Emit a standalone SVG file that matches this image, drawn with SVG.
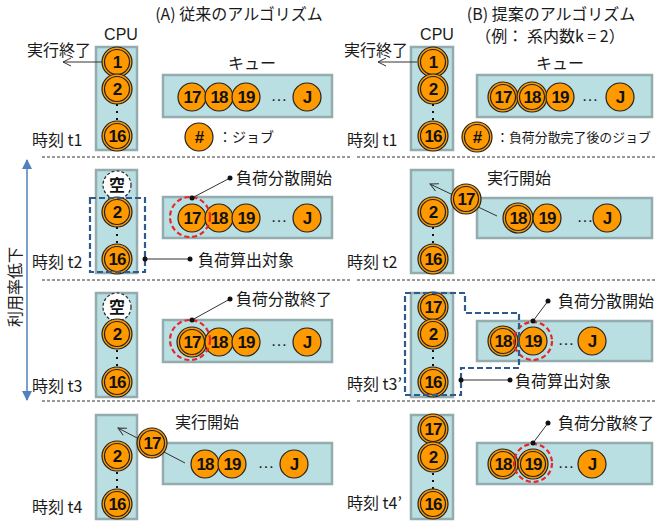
<svg xmlns="http://www.w3.org/2000/svg" xmlns:xlink="http://www.w3.org/1999/xlink" width="657" height="525" viewBox="0 0 657 525">
<defs>
<style>
.t{font-family:"Noto Sans CJK JP","Noto Sans",sans-serif;font-size:16px;fill:#1a1a1a}
.s{font-size:14px}
.m{text-anchor:middle}
.cpu{font-family:"Liberation Sans",Arial,sans-serif;font-size:16px;fill:#1a1a1a;text-anchor:middle}
.n{font-family:"Liberation Sans",Arial,sans-serif;font-weight:bold;font-size:17px;fill:#111;text-anchor:middle;letter-spacing:-1px}
.k{font-family:"Noto Sans CJK JP",sans-serif;font-weight:bold;font-size:16px;fill:#111;text-anchor:middle}
.el{font-family:"Liberation Sans",Arial,sans-serif;font-size:17px;fill:#222;text-anchor:middle}
.box{fill:#b9dfe3;stroke:#94acae;stroke-width:2.5}
.j{fill:#ff9900;stroke:#222;stroke-width:1.2}
.e{fill:#fff;stroke:#222;stroke-width:1.2;stroke-dasharray:3 2}
.red{fill:none;stroke:#e8262a;stroke-width:2.2;stroke-dasharray:5 3}
.blue{fill:none;stroke:#2f5a8c;stroke-width:2.2;stroke-dasharray:6 3}
.sep{stroke:#333;stroke-width:1;stroke-dasharray:3 2;fill:none}
.ln{stroke:#333;stroke-width:1;fill:none}
.ar{stroke:#333;stroke-width:1;fill:none;marker-end:url(#open)}
.dot{fill:#111}
</style>
<marker id="open" markerWidth="10" markerHeight="10" refX="9" refY="5" orient="auto" markerUnits="userSpaceOnUse">
<path d="M1,1 L9,5 L1,9" fill="none" stroke="#333" stroke-width="1"/>
</marker>
<marker id="tri" markerWidth="10" markerHeight="12" refX="9" refY="5" orient="auto-start-reverse" markerUnits="userSpaceOnUse">
<path d="M0,0 L10,5 L0,10 Z" fill="#4f81bd"/>
</marker>
<g id="dj"><circle r="15" class="j"/><circle r="12.5" class="j"/></g>
<circle id="sj" r="14" class="j"/>
<circle id="ej" r="14" class="e"/>
<g id="vd"><rect x="-1" y="-8" width="2" height="2" class="dot"/><rect x="-1" y="-1" width="2" height="2" class="dot"/><rect x="-1" y="6" width="2" height="2" class="dot"/></g>
</defs>

<g id="titles">
<text class="t m" x="239" y="20">(A) 従来のアルゴリズム</text>
<text class="t m" x="551" y="20">(B) 提案のアルゴリズム</text>
<text class="t m" x="550" y="42">（例：  系内数k = 2）</text>
<text class="t" x="21" y="287" transform="rotate(-90 21 287)" text-anchor="middle">利用率低下</text>
</g>

<g id="separators">
<line class="sep" x1="42" y1="157" x2="350" y2="157"/><line class="sep" x1="357" y1="157" x2="655" y2="157"/>
<line class="sep" x1="42" y1="280" x2="350" y2="280"/><line class="sep" x1="357" y1="280" x2="655" y2="280"/>
<line class="sep" x1="42" y1="401" x2="350" y2="401"/><line class="sep" x1="357" y1="401" x2="655" y2="401"/>
</g>

<!-- Row 1 left -->
<g id="a1-cpu"><rect class="box" x="96" y="47" width="41" height="103"/><text class="cpu" x="121" y="40">CPU</text></g>
<g id="a1-j1"><use xlink:href="#dj" x="117" y="62"/><text class="n" x="117" y="68">1</text></g>
<g id="a1-j2"><use xlink:href="#dj" x="117" y="89"/><text class="n" x="117" y="95">2</text></g>
<use xlink:href="#vd" x="117" y="112"/>
<g id="a1-j16"><use xlink:href="#dj" x="117" y="136"/><text class="n" x="117" y="142">16</text></g>
<text class="t" x="27" y="56">実行終了</text>
<text class="t" x="32" y="146">時刻 t1</text>
<g id="a1-queue"><rect class="box" x="163" y="75" width="169" height="42"/><text class="t m" x="252" y="69">キュー</text></g>
<g id="a1-q17"><use xlink:href="#sj" x="192" y="97"/><text class="n" x="192" y="103">17</text></g>
<g id="a1-q18"><use xlink:href="#sj" x="219" y="97"/><text class="n" x="219" y="103">18</text></g>
<g id="a1-q19"><use xlink:href="#sj" x="246" y="97"/><text class="n" x="246" y="103">19</text></g>
<text class="el" x="279" y="101">…</text>
<g id="a1-qJ"><use xlink:href="#sj" x="307" y="97"/><text class="n" x="307" y="103">J</text></g>
<g id="a1-legend"><use xlink:href="#sj" x="199" y="137"/><text class="n" x="199" y="143">#</text><text class="t s" x="218" y="142">：ジョブ</text></g>

<!-- Row 1 right -->
<g id="b1-cpu"><rect class="box" x="411" y="47" width="42" height="103"/><text class="cpu" x="437" y="40">CPU</text></g>
<g id="b1-j1"><use xlink:href="#dj" x="433" y="62"/><text class="n" x="433" y="68">1</text></g>
<g id="b1-j2"><use xlink:href="#dj" x="433" y="89"/><text class="n" x="433" y="95">2</text></g>
<use xlink:href="#vd" x="433" y="112"/>
<g id="b1-j16"><use xlink:href="#dj" x="433" y="136"/><text class="n" x="433" y="142">16</text></g>
<text class="t" x="344" y="56">実行終了</text>
<text class="t" x="347" y="146">時刻 t1</text>
<g id="b1-queue"><rect class="box" x="477" y="75" width="175" height="42"/><text class="t m" x="560" y="69">キュー</text></g>
<g id="b1-q17"><use xlink:href="#dj" x="503" y="97"/><text class="n" x="503" y="103">17</text></g>
<g id="b1-q18"><use xlink:href="#dj" x="532" y="97"/><text class="n" x="532" y="103">18</text></g>
<g id="b1-q19"><use xlink:href="#sj" x="560" y="97"/><text class="n" x="560" y="103">19</text></g>
<text class="el" x="590" y="101">…</text>
<g id="b1-qJ"><use xlink:href="#sj" x="620" y="97"/><text class="n" x="620" y="103">J</text></g>
<g id="b1-legend"><use xlink:href="#dj" x="477" y="137"/><text class="n" x="477" y="143">#</text><text class="t" x="496" y="142" style="font-size:13px" textLength="155" lengthAdjust="spacingAndGlyphs">：負荷分散完了後のジョブ</text></g>

<!-- Row 2 left -->
<g id="a2-cpu"><rect class="box" x="96" y="170" width="41" height="103"/></g>
<g id="a2-empty"><use xlink:href="#ej" x="117" y="185"/><text class="k" x="117" y="191">空</text></g>
<g id="a2-j2"><use xlink:href="#dj" x="117" y="212"/><text class="n" x="117" y="218">2</text></g>
<use xlink:href="#vd" x="117" y="235"/>
<g id="a2-j16"><use xlink:href="#dj" x="117" y="259"/><text class="n" x="117" y="265">16</text></g>
<rect class="blue" x="90" y="198" width="55" height="74"/>
<text class="t" x="198" y="266">負荷算出対象</text>
<text class="t" x="32" y="268">時刻 t2</text>
<g id="a2-queue"><rect class="box" x="163" y="197" width="169" height="41"/></g>
<g id="a2-q17"><use xlink:href="#sj" x="192" y="218"/><text class="n" x="192" y="224">17</text></g>
<g id="a2-q18"><use xlink:href="#sj" x="219" y="218"/><text class="n" x="219" y="224">18</text></g>
<g id="a2-q19"><use xlink:href="#sj" x="246" y="218"/><text class="n" x="246" y="224">19</text></g>
<text class="el" x="279" y="222">…</text>
<g id="a2-qJ"><use xlink:href="#sj" x="307" y="218"/><text class="n" x="307" y="224">J</text></g>
<circle class="red" cx="190" cy="217" r="20"/>
<text class="t" x="236" y="184">負荷分散開始</text>

<!-- Row 2 right -->
<g id="b2-cpu"><rect class="box" x="411" y="170" width="42" height="103"/></g>
<g id="b2-j2"><use xlink:href="#dj" x="433" y="212"/><text class="n" x="433" y="218">2</text></g>
<use xlink:href="#vd" x="433" y="235"/>
<g id="b2-j16"><use xlink:href="#dj" x="433" y="259"/><text class="n" x="433" y="265">16</text></g>
<text class="t" x="347" y="268">時刻 t2</text>
<g id="b2-queue"><rect class="box" x="477" y="198" width="175" height="40"/></g>
<text class="t" x="487" y="184">実行開始</text>

<!-- Row 3 left -->
<g id="a3-cpu"><rect class="box" x="96" y="293" width="41" height="104"/></g>
<g id="a3-empty"><use xlink:href="#ej" x="117" y="307"/><text class="k" x="117" y="313">空</text></g>
<g id="a3-j2"><use xlink:href="#dj" x="117" y="334"/><text class="n" x="117" y="340">2</text></g>
<use xlink:href="#vd" x="117" y="358"/>
<g id="a3-j16"><use xlink:href="#dj" x="117" y="382"/><text class="n" x="117" y="388">16</text></g>
<text class="t" x="32" y="392">時刻 t3</text>
<g id="a3-queue"><rect class="box" x="163" y="320" width="169" height="42"/></g>
<g id="a3-q17"><use xlink:href="#dj" x="192" y="342"/><text class="n" x="192" y="348">17</text></g>
<g id="a3-q18"><use xlink:href="#sj" x="219" y="342"/><text class="n" x="219" y="348">18</text></g>
<g id="a3-q19"><use xlink:href="#sj" x="246" y="342"/><text class="n" x="246" y="348">19</text></g>
<text class="el" x="279" y="346">…</text>
<g id="a3-qJ"><use xlink:href="#sj" x="307" y="342"/><text class="n" x="307" y="348">J</text></g>
<circle class="red" cx="190" cy="340" r="20"/>
<text class="t" x="236" y="305">負荷分散終了</text>

<!-- Row 3 right -->
<g id="b3-cpu"><rect class="box" x="411" y="293" width="42" height="104"/></g>
<g id="b3-j17"><use xlink:href="#dj" x="433" y="307"/><text class="n" x="433" y="313">17</text></g>
<g id="b3-j2"><use xlink:href="#dj" x="433" y="334"/><text class="n" x="433" y="340">2</text></g>
<use xlink:href="#vd" x="433" y="358"/>
<g id="b3-j16"><use xlink:href="#dj" x="433" y="382"/><text class="n" x="433" y="388">16</text></g>
<text class="t" x="347" y="390">時刻 t3’</text>
<g id="b3-queue"><rect class="box" x="477" y="321" width="175" height="40"/></g>
<g id="b3-q18"><use xlink:href="#dj" x="503" y="341"/><text class="n" x="503" y="347">18</text></g>
<g id="b3-q19"><use xlink:href="#sj" x="533" y="341"/><text class="n" x="533" y="347">19</text></g>
<text class="el" x="566" y="345">…</text>
<g id="b3-qJ"><use xlink:href="#sj" x="592" y="341"/><text class="n" x="592" y="347">J</text></g>
<circle class="red" cx="533" cy="341" r="19"/>
<path class="blue" d="M405,293 H465 V313 H519 V368 H461 V395 H405 Z"/>
<text class="t" x="515" y="387">負荷算出対象</text>
<text class="t" x="558" y="307">負荷分散開始</text>

<!-- Row 4 left -->
<g id="a4-cpu"><rect class="box" x="96" y="415" width="41" height="104"/></g>
<g id="a4-j2"><use xlink:href="#dj" x="117" y="456"/><text class="n" x="117" y="462">2</text></g>
<use xlink:href="#vd" x="117" y="480"/>
<g id="a4-j16"><use xlink:href="#dj" x="117" y="504"/><text class="n" x="117" y="510">16</text></g>
<text class="t" x="32" y="513">時刻 t4</text>
<g id="a4-queue"><rect class="box" x="163" y="443" width="169" height="41"/></g>
<g id="a4-q18"><use xlink:href="#sj" x="205" y="464"/><text class="n" x="205" y="470">18</text></g>
<g id="a4-q19"><use xlink:href="#sj" x="232" y="464"/><text class="n" x="232" y="470">19</text></g>
<text class="el" x="266" y="468">…</text>
<g id="a4-qJ"><use xlink:href="#sj" x="294" y="464"/><text class="n" x="294" y="470">J</text></g>
<text class="t" x="175" y="428">実行開始</text>

<!-- Row 4 right -->
<g id="b4-cpu"><rect class="box" x="411" y="415" width="42" height="104"/></g>
<g id="b4-j17"><use xlink:href="#dj" x="433" y="429"/><text class="n" x="433" y="435">17</text></g>
<g id="b4-j2"><use xlink:href="#dj" x="433" y="457"/><text class="n" x="433" y="463">2</text></g>
<use xlink:href="#vd" x="433" y="481"/>
<g id="b4-j16"><use xlink:href="#dj" x="433" y="504"/><text class="n" x="433" y="510">16</text></g>
<text class="t" x="347" y="509">時刻 t4’</text>
<g id="b4-queue"><rect class="box" x="477" y="443" width="175" height="41"/></g>
<g id="b4-q18"><use xlink:href="#dj" x="503" y="464"/><text class="n" x="503" y="470">18</text></g>
<g id="b4-q19"><use xlink:href="#dj" x="533" y="464"/><text class="n" x="533" y="470">19</text></g>
<text class="el" x="566" y="468">…</text>
<g id="b4-qJ"><use xlink:href="#sj" x="592" y="464"/><text class="n" x="592" y="470">J</text></g>
<circle class="red" cx="533" cy="463" r="19"/>
<text class="t" x="558" y="429">負荷分散終了</text>

<!-- Connectors -->
<g id="connectors">
<line x1="27" y1="160" x2="27" y2="400" stroke="#4f81bd" stroke-width="1.5" marker-start="url(#tri)" marker-end="url(#tri)"/>
<line class="ar" x1="102" y1="62" x2="63" y2="62"/>
<line class="ar" x1="417" y1="62" x2="378" y2="62"/>
<line class="ln" x1="145" y1="259" x2="190" y2="259"/><circle class="dot" cx="145" cy="259" r="2.5"/><circle class="dot" cx="190" cy="259" r="2.5"/>
<line class="ln" x1="192" y1="198" x2="230" y2="178"/><circle class="dot" cx="192" cy="198" r="2.5"/><circle class="dot" cx="230" cy="178" r="2.5"/>
<line class="ar" x1="497" y1="216" x2="430" y2="184"/>
<line class="ln" x1="192" y1="320" x2="230" y2="299"/><circle class="dot" cx="192" cy="320" r="2.5"/><circle class="dot" cx="230" cy="299" r="2.5"/>
<line class="ln" x1="461" y1="380" x2="510" y2="380"/><circle class="dot" cx="461" cy="380" r="2.5"/><circle class="dot" cx="510" cy="380" r="2.5"/>
<line class="ln" x1="533" y1="321" x2="548" y2="301"/><circle class="dot" cx="533" cy="321" r="2.5"/><circle class="dot" cx="548" cy="301" r="2.5"/>
<line class="ar" x1="185" y1="463" x2="118" y2="428"/>
<line class="ln" x1="533" y1="443" x2="548" y2="423"/><circle class="dot" cx="533" cy="443" r="2.5"/><circle class="dot" cx="548" cy="423" r="2.5"/>
</g>

<!-- Jobs moving over arrows -->
<g id="b2-q17"><use xlink:href="#dj" x="466" y="199"/><text class="n" x="466" y="205">17</text></g>
<g id="b2-q18"><use xlink:href="#dj" x="518" y="218"/><text class="n" x="518" y="224">18</text></g>
<g id="b2-q19"><use xlink:href="#sj" x="547" y="218"/><text class="n" x="547" y="224">19</text></g>
<text class="el" x="585" y="222">…</text>
<g id="b2-qJ"><use xlink:href="#sj" x="607" y="218"/><text class="n" x="607" y="224">J</text></g>
<g id="a4-q17"><use xlink:href="#dj" x="152" y="443"/><text class="n" x="152" y="449">17</text></g>
</svg>
